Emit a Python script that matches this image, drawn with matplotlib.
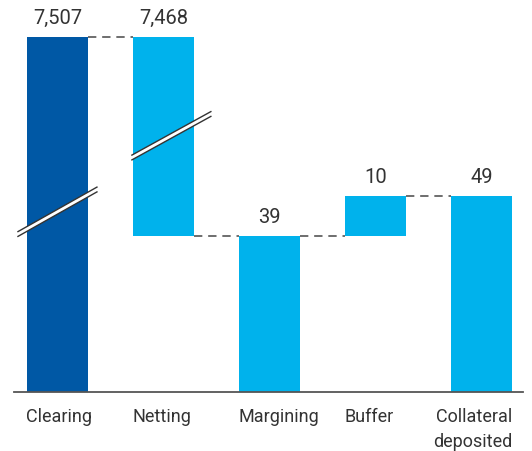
import numpy as np
import matplotlib
matplotlib.use("Agg")
import matplotlib.pyplot as plt
import matplotlib.transforms as mtransforms

plt.rcParams['font.family'] = ['Roboto', 'DejaVu Sans']

categories = ["Clearing", "Netting", "Margining", "Buffer", "Collateral\ndeposited"]
value_labels = ["7,507", "7,468", "39", "10", "49"]
bar_bottoms = [0, 39, 0, 39, 0]
bar_tops = [7507, 7507, 39, 49, 49]

dark_blue = "#0058a5"
light_blue = "#00b2ec"
colors = [dark_blue, light_blue, light_blue, light_blue, light_blue]

# broken value axis: linear up to CUT, strongly compressed above it
CUT = 60.0
RATIO = (88.75 - CUT) / (7507 - CUT)


def fwd(v):
    v = np.asarray(v, dtype=float)
    return np.where(v <= CUT, v, CUT + (v - CUT) * RATIO)


def inv(u):
    u = np.asarray(u, dtype=float)
    return np.where(u <= CUT, u, CUT + (u - CUT) / RATIO)


fig = plt.figure(figsize=(5.32, 4.51), dpi=100)
ax = fig.add_axes([14 / 532, 59 / 451, 509 / 532, 392 / 451])
ax.set_yscale('function', functions=(fwd, inv))
ax.set_ylim(0, float(inv(98.0)))
ax.set_xlim(-0.4155, 4.392)

x = np.arange(len(categories))
width = 0.576
heights = [t - b for t, b in zip(bar_tops, bar_bottoms)]
ax.bar(x, heights, bottom=bar_bottoms, width=width, color=colors, zorder=2)

# dashed connectors between consecutive bars
levels = [7507, 39, 39, 49]
for i, lv in enumerate(levels):
    ax.plot([x[i] + width / 2, x[i + 1] - width / 2], [lv, lv],
            color="#555555", lw=1.2, dashes=(5, 3.5), zorder=1)

# value labels
for xi, top, lab in zip(x, bar_tops, value_labels):
    ax.annotate(lab, (xi, top), xytext=(0, 6.5), textcoords="offset points",
                ha="center", va="bottom", fontsize=14.5, color="#333333")

# category labels below the baseline
trans = mtransforms.blended_transform_factory(ax.transData, ax.transAxes)
for i, lab in enumerate(categories):
    if i < len(categories) - 1:
        ax.text(x[i] - width / 2 - 0.01, -0.04, lab, transform=trans,
                ha="left", va="top", fontsize=13, color="#333333")
    else:
        ax.text(x[i] + width / 2, -0.04, lab, transform=trans,
                ha="right", va="top", fontsize=13, color="#333333",
                multialignment="right", linespacing=1.55)

# axis-break marks on the two tall bars (x in bar units, y in axes fraction)
breaks = [((-0.378, (392 - 234) / 392), (0.368, (392 - 189.5) / 392)),
          ((0.698, (392 - 157.5) / 392), (1.444, (392 - 114) / 392))]
off = 2.4 / 392
for (x0, y0), (x1, y1) in breaks:
    ax.fill([x0, x1, x1, x0], [y0 - off, y1 - off, y1 + off, y0 + off],
            color="white", transform=trans, zorder=3, lw=0)
    for s in (-1, 1):
        ax.plot([x0, x1], [y0 + s * off, y1 + s * off], color="#333333",
                lw=1.0, transform=trans, zorder=4)

for side in ("left", "right", "top"):
    ax.spines[side].set_visible(False)
ax.spines["bottom"].set_color("#555555")
ax.spines["bottom"].set_linewidth(1.3)
ax.set_xticks([])
ax.set_yticks([])
ax.tick_params(left=False, bottom=False)

fig.savefig("out.png", dpi=100)
